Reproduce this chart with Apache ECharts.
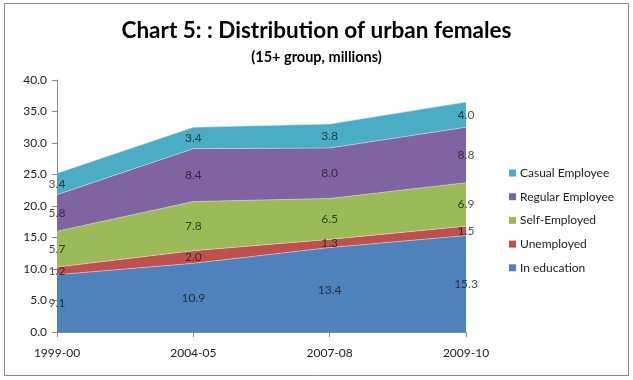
<!DOCTYPE html>
<html><head><meta charset="utf-8">
<script src="https://cdn.jsdelivr.net/npm/echarts@6/dist/echarts.min.js"></script>
<style>html,body{margin:0;padding:0;background:#fff}#c{width:633px;height:380px}</style>
</head><body><div id="c"></div>
<script>
const categories = ['1999-00', '2004-05', '2007-08', '2009-10'];
const inEducation = [9.1, 10.9, 13.4, 15.3];
const unemployed = [1.2, 2.0, 1.3, 1.5];
const selfEmployed = [5.7, 7.8, 6.5, 6.9];
const regularEmployee = [5.8, 8.4, 8.0, 8.8];
const casualEmployee = [3.4, 3.4, 3.8, 4.0];
const yTicks = [0, 5, 10, 15, 20, 25, 30, 35, 40];

const seriesDefs = [
  { name: 'In education', data: inEducation, color: '#4F81BD' },
  { name: 'Unemployed', data: unemployed, color: '#C0504D' },
  { name: 'Self-Employed', data: selfEmployed, color: '#9BBB59' },
  { name: 'Regular Employee', data: regularEmployee, color: '#8064A2' },
  { name: 'Casual Employee', data: casualEmployee, color: '#4BACC6' }
];

const FONT = 'Lato';
const series = [];
const cum = categories.map(() => 0);
seriesDefs.forEach(d => {
  series.push({
    name: d.name, type: 'line', stack: 'total', data: d.data,
    symbol: 'none', smooth: false,
    lineStyle: { width: 0.8, color: '#e8e8e8', opacity: 0.6 },
    areaStyle: { color: d.color, opacity: 1 },
    itemStyle: { color: d.color },
    z: 2
  });
  const pts = d.data.map((v, i) => {
    const mid = cum[i] + v / 2;
    cum[i] += v;
    return [i, mid, v];
  });
  series.push({
    type: 'scatter', data: pts, symbolSize: 0, silent: true, z: 5,
    label: {
      show: true, position: 'inside', color: '#1a1a1a', fontFamily: FONT, fontSize: 12,
      formatter: p => p.value[2].toFixed(1)
    }
  });
});

const chart = echarts.init(document.getElementById('c'), null, { renderer: 'canvas' });
chart.setOption({
  animation: false,
  backgroundColor: '#fff',
  title: [
    { text: 'Chart 5: : Distribution of urban females', left: 'center', top: 14,
      textStyle: { fontFamily: FONT, fontWeight: 'bold', fontSize: 22.5, color: '#000' } },
    { text: '(15+ group, millions)', left: 'center', top: 45,
      textStyle: { fontFamily: FONT, fontWeight: 'bold', fontSize: 14.5, color: '#000' } }
  ],
  graphic: [{ type: 'rect', shape: { x: 4.5, y: 3.5, width: 624, height: 372 },
    style: { fill: 'none', stroke: '#888', lineWidth: 1 }, silent: true }],
  legend: {
    data: ['Casual Employee', 'Regular Employee', 'Self-Employed', 'Unemployed', 'In education'],
    orient: 'vertical', left: 504, top: 162, itemWidth: 7, itemHeight: 7, itemGap: 11.7,
    icon: 'rect',
    textStyle: { fontFamily: FONT, fontSize: 12, color: '#222', padding: [0, 0, 0, -1] }
  },
  grid: { left: 57, right: 167, top: 80, bottom: 48, containLabel: false },
  xAxis: {
    type: 'category', data: categories, boundaryGap: false,
    axisLine: { lineStyle: { color: '#888' } },
    axisTick: { show: true, length: 5, lineStyle: { color: '#888' } },
    axisLabel: { fontFamily: FONT, fontSize: 12, color: '#222', margin: 15 }
  },
  yAxis: {
    type: 'value', min: 0, max: 40, interval: 5,
    splitLine: { show: false },
    axisLine: { show: true, lineStyle: { color: '#888' } },
    axisTick: { show: true, length: 5, lineStyle: { color: '#888' } },
    axisLabel: { fontFamily: FONT, fontSize: 12, color: '#222', margin: 10,
      formatter: v => yTicks.includes(v) ? v.toFixed(1) : '' }
  },
  series
});
</script></body></html>
